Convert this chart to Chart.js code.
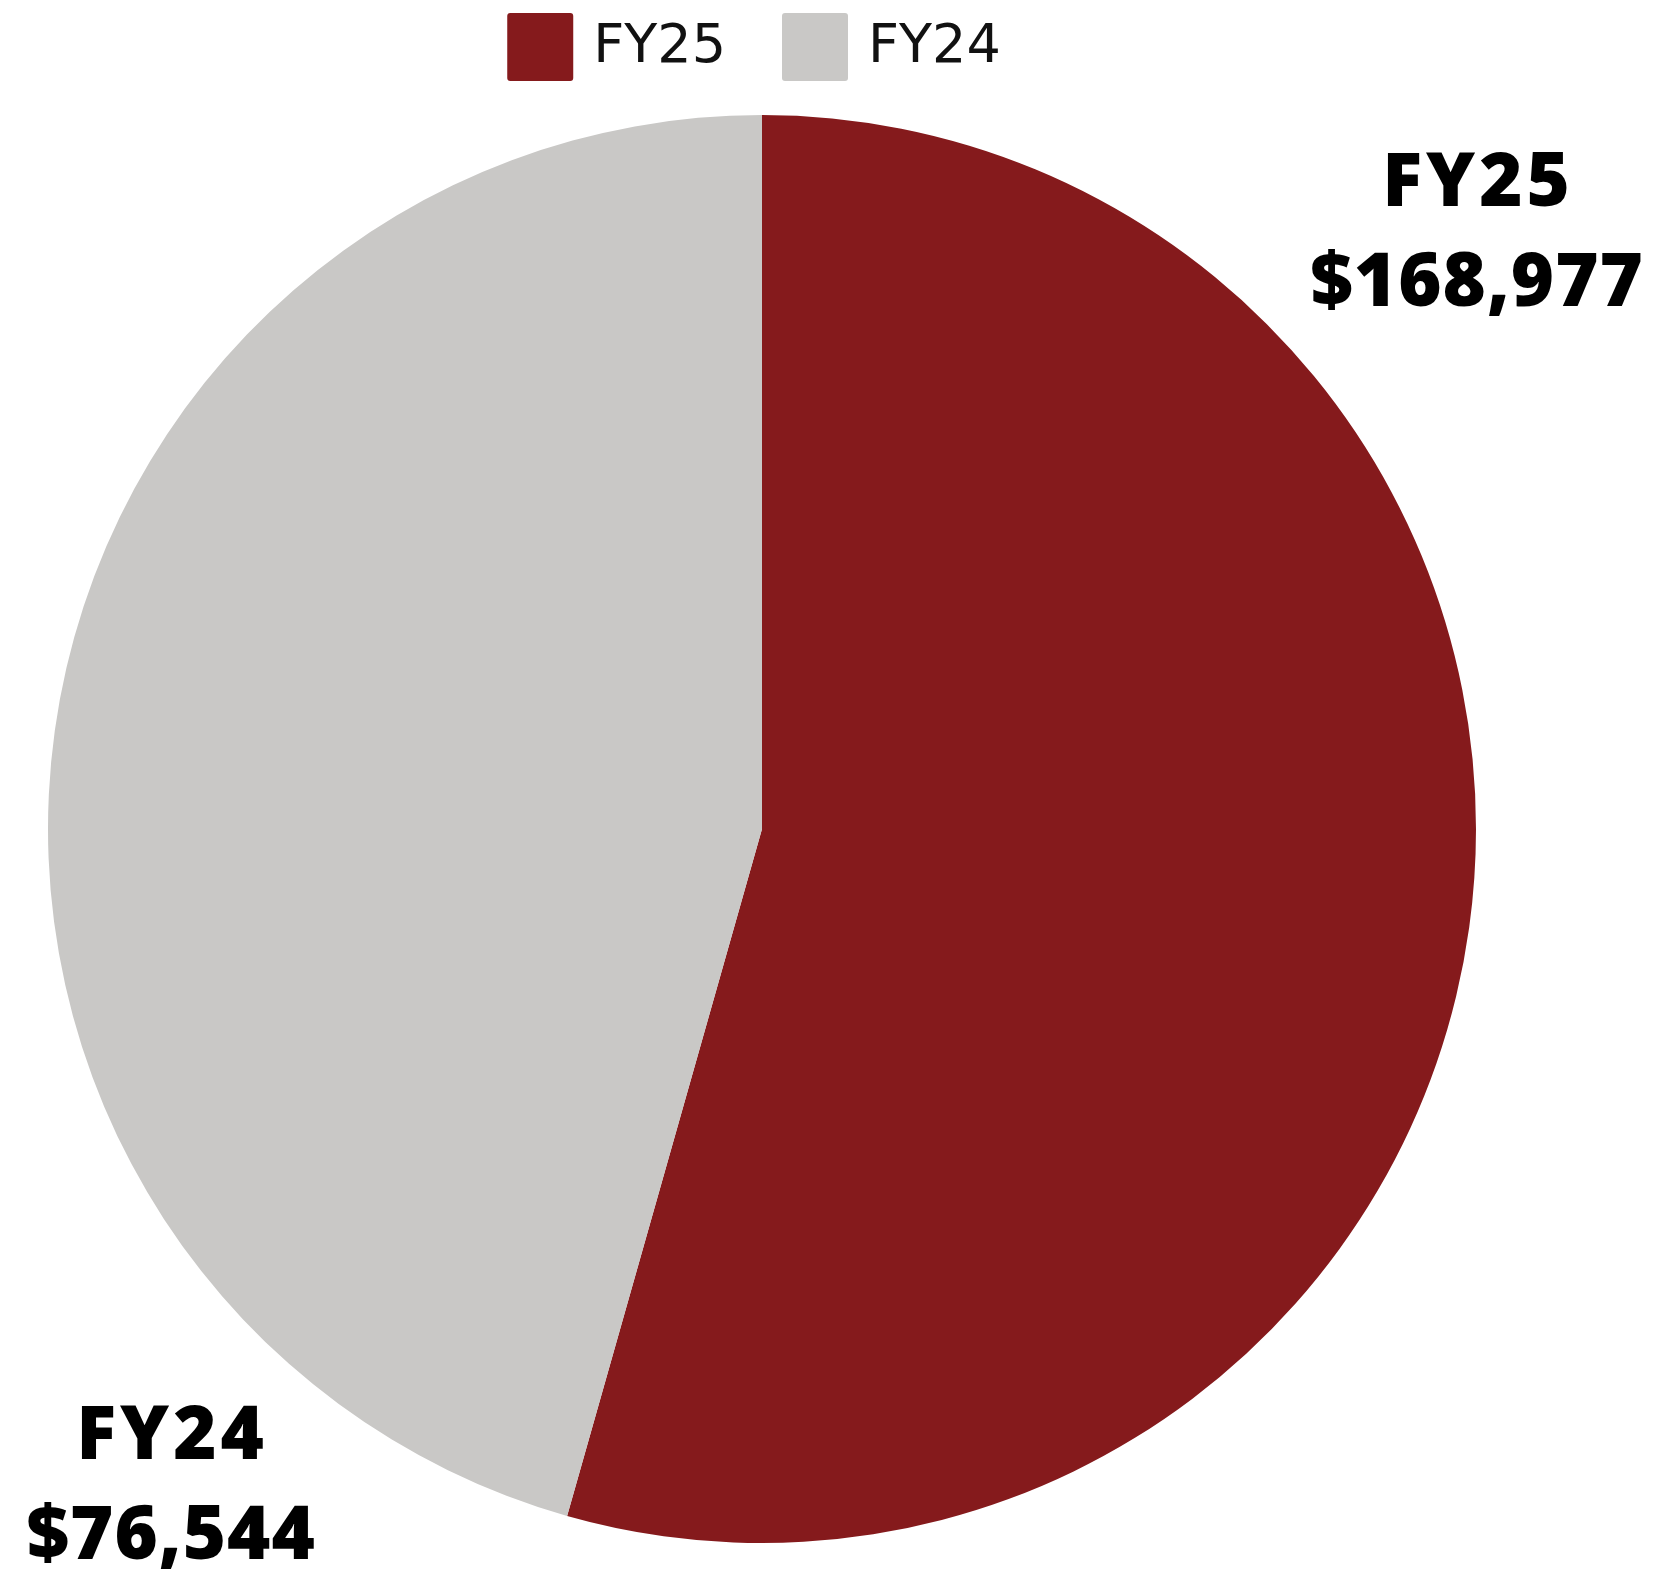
<!DOCTYPE html>
<html>
<head>
<meta charset="utf-8">
<script src="https://cdn.jsdelivr.net/npm/chart.js@4"></script>
<style>
  html, body { margin: 0; padding: 0; background: #fff; }
  #wrap { width: 1653px; height: 1576px; }
</style>
</head>
<body>
<div id="wrap"><canvas id="pieChart"></canvas></div>
<script>
// data
const years = ['FY25', 'FY24'];
const sliceShare = [54.4, 45.6];        // share of the circle as drawn
const amountLabels = ['$168,977', '$76,544'];
const sliceColors = ['#851a1c', '#c9c8c6'];

// where the two value labels sit, relative to the pie centre (in radii)
const labelSpots = [
    { dx: 1.0, dy: -0.908 },
    { dx: -0.829, dy: 0.847 }
];

// simple legend drawn on top, like the original one
const topLegend = {
    id: 'topLegend',
    afterDraw(chart) {
        const ctx = chart.ctx;
        const arc = chart.getDatasetMeta(0).data[0];
        ctx.save();
        ctx.font = '400 54px "DejaVu Sans"';
        ctx.textBaseline = 'middle';
        ctx.textAlign = 'left';
        const box = 66, boxH = 68, gap = 20, between = 56;
        let total = 0;
        years.forEach((y, i) => {
            total += box + gap + ctx.measureText(y).width;
            if (i < years.length - 1) total += between;
        });
        let x = arc.x - 8 - total / 2;
        years.forEach((y, i) => {
            ctx.fillStyle = sliceColors[i];
            ctx.beginPath();
            ctx.roundRect(x, 13, box, boxH, 3);
            ctx.fill();
            ctx.fillStyle = '#111';
            ctx.fillText(y, x + box + gap, 13 + boxH / 2 + 1);
            x += box + gap + ctx.measureText(y).width + between;
        });
        ctx.restore();
    }
};

// bold year + amount labels next to the pie
const valueLabels = {
    id: 'valueLabels',
    afterDraw(chart) {
        const ctx = chart.ctx;
        const meta = chart.getDatasetMeta(0);
        ctx.save();
        ctx.font = '800 74px "Open Sans"';
        ctx.fillStyle = '#000';
        ctx.textAlign = 'center';
        ctx.textBaseline = 'middle';
        meta.data.forEach((arc, i) => {
            const r = arc.outerRadius;
            const x = arc.x + labelSpots[i].dx * r;
            const y = arc.y + labelSpots[i].dy * r;
            ctx.letterSpacing = '4px';
            ctx.fillText(years[i], x + 2, y + 4);
            ctx.letterSpacing = '1px';
            ctx.fillText(amountLabels[i], x + 1, y + 104);
        });
        ctx.restore();
    }
};

const ctx = document.getElementById('pieChart').getContext('2d');
new Chart(ctx, {
    type: 'pie',
    data: {
        labels: years,
        datasets: [{
            data: sliceShare,
            backgroundColor: sliceColors,
            borderWidth: 0
        }]
    },
    options: {
        responsive: true,
        maintainAspectRatio: false,
        animation: false,
        layout: {
            padding: { top: 115, bottom: 33, left: 48, right: 177 }
        },
        plugins: {
            legend: { display: false },
            tooltip: { enabled: false }
        }
    },
    plugins: [topLegend, valueLabels]
});
</script>
</body>
</html>
